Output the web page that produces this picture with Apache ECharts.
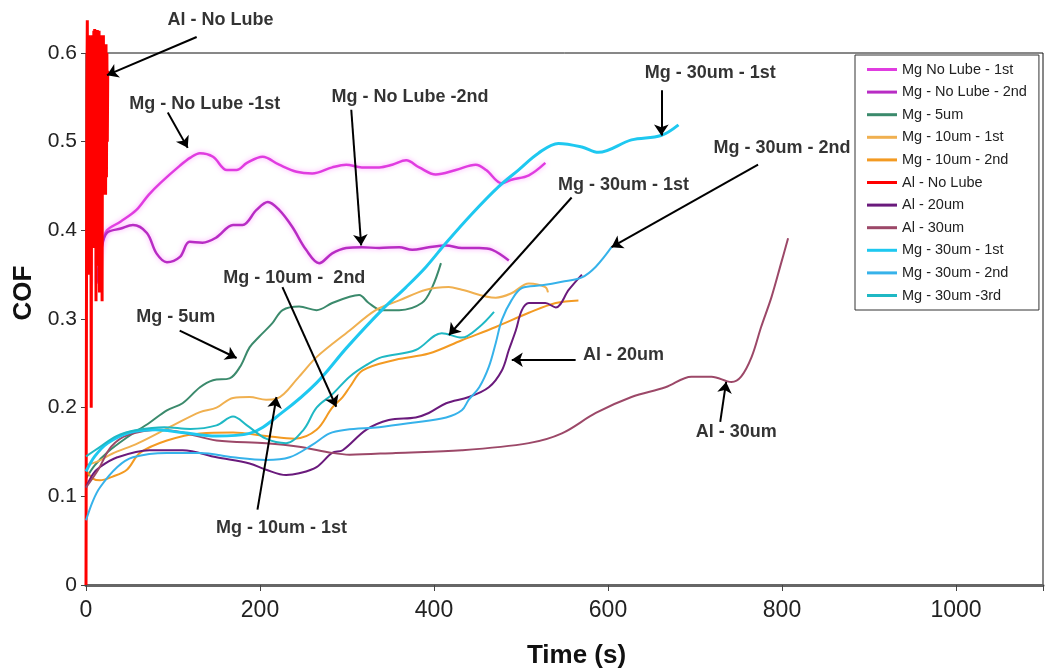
<!DOCTYPE html>
<html>
<head>
<meta charset="utf-8">
<title>COF vs Time</title>
<script src="https://cdn.jsdelivr.net/npm/echarts@6/dist/echarts.min.js"></script>
<style>
  html, body { margin: 0; padding: 0; background: #fff; }
  #chart { width: 1046px; height: 671px; }
</style>
</head>
<body>
<div id="chart"></div>
<script>
// values: [time (s), COF]
var mgNoLube1 = [[12, 0.36], [20, 0.39], [24, 0.4], [40, 0.41], [58, 0.423], [72, 0.44], [85, 0.453], [108, 0.473], [120, 0.482], [131, 0.487], [146, 0.483], [162, 0.468], [173, 0.468], [185, 0.476], [203, 0.483], [222, 0.474], [242, 0.466], [260, 0.464], [283, 0.471], [299, 0.474], [317, 0.471], [337, 0.471], [352, 0.474], [368, 0.479], [383, 0.471], [402, 0.463], [425, 0.468], [448, 0.474], [460, 0.468], [478, 0.453], [489, 0.457], [509, 0.462], [528, 0.476]]
var mgNoLube2 = [[12, 0.34], [18, 0.38], [24, 0.397], [40, 0.402], [54, 0.406], [70, 0.397], [81, 0.374], [93, 0.364], [108, 0.37], [119, 0.387], [134, 0.386], [150, 0.392], [169, 0.406], [180, 0.406], [196, 0.423], [209, 0.432], [222, 0.423], [237, 0.404], [253, 0.378], [268, 0.363], [283, 0.374], [299, 0.38], [317, 0.381], [337, 0.38], [360, 0.381], [375, 0.378], [394, 0.381], [414, 0.383], [432, 0.38], [452, 0.38], [467, 0.378], [486, 0.366]]
var mg5um = [[0, 0.12], [10, 0.135], [25, 0.15], [45, 0.165], [73, 0.183], [93, 0.197], [111, 0.205], [131, 0.223], [146, 0.231], [165, 0.233], [177, 0.246], [188, 0.268], [199, 0.28], [214, 0.295], [226, 0.31], [245, 0.314], [265, 0.31], [283, 0.318], [303, 0.325], [314, 0.327], [325, 0.318], [340, 0.31], [360, 0.31], [386, 0.318], [398, 0.336], [408, 0.363]]
var mg10um1 = [[0, 0.135], [15, 0.14], [30, 0.148], [60, 0.16], [100, 0.18], [131, 0.195], [150, 0.2], [169, 0.211], [188, 0.212], [207, 0.209], [219, 0.21], [245, 0.235], [265, 0.257], [303, 0.287], [333, 0.31], [360, 0.321], [391, 0.333], [417, 0.336], [432, 0.333], [471, 0.324], [489, 0.329], [509, 0.34], [528, 0.336], [531, 0.33]]
var mg10um2 = [[0, 0.13], [8, 0.12], [16, 0.118], [30, 0.122], [47, 0.13], [62, 0.149], [93, 0.163], [131, 0.171], [169, 0.172], [207, 0.168], [240, 0.165], [265, 0.175], [283, 0.2], [295, 0.212], [303, 0.223], [318, 0.242], [356, 0.254], [394, 0.261], [432, 0.276], [471, 0.291], [509, 0.307], [540, 0.318], [566, 0.321]]
var alNoLube = [[0, 0], [0.5, 0.3], [1, 0.55], [1.5, 0.637], [2, 0.45], [2.5, 0.6], [3, 0.35], [3.5, 0.62], [4, 0.5], [4.5, 0.61], [5, 0.42], [5.5, 0.6], [6, 0.2], [6.5, 0.55], [7, 0.62], [7.5, 0.43], [8, 0.61], [8.5, 0.38], [9, 0.625], [9.5, 0.5], [10, 0.627], [10.5, 0.41], [11, 0.62], [11.5, 0.32], [12, 0.6], [12.5, 0.47], [13, 0.626], [13.5, 0.36], [14, 0.61], [14.5, 0.44], [15, 0.625], [15.5, 0.33], [16, 0.6], [16.5, 0.5], [17, 0.62], [17.5, 0.42], [18, 0.6], [18.5, 0.32], [19, 0.58], [19.5, 0.45], [20, 0.62], [20.5, 0.44], [21, 0.6], [21.5, 0.5], [22, 0.58], [22.5, 0.44], [23, 0.61], [23.5, 0.46], [24, 0.6], [24.5, 0.5], [25, 0.58]]
var al20um = [[0, 0.11], [8, 0.125], [16, 0.133], [36, 0.144], [73, 0.152], [111, 0.152], [150, 0.144], [188, 0.137], [207, 0.13], [230, 0.124], [245, 0.126], [265, 0.133], [283, 0.149], [295, 0.152], [322, 0.175], [348, 0.186], [379, 0.189], [394, 0.194], [414, 0.205], [440, 0.212], [463, 0.223], [478, 0.242], [486, 0.265], [494, 0.287], [501, 0.31], [509, 0.318], [528, 0.318], [540, 0.313], [555, 0.333], [570, 0.35]]
var al30um = [[0, 0.11], [14, 0.13], [29, 0.156], [48, 0.169], [86, 0.175], [111, 0.172], [150, 0.163], [207, 0.16], [245, 0.156], [283, 0.149], [303, 0.147], [356, 0.149], [432, 0.152], [509, 0.16], [547, 0.171], [586, 0.194], [627, 0.212], [666, 0.223], [696, 0.235], [719, 0.235], [742, 0.229], [753, 0.235], [765, 0.257], [776, 0.291], [788, 0.325], [799, 0.363], [807, 0.391]]
var mg30um1 = [[0, 0.128], [10, 0.145], [25, 0.16], [50, 0.172], [80, 0.175], [110, 0.172], [150, 0.168], [188, 0.171], [226, 0.195], [265, 0.228], [300, 0.268], [340, 0.31], [368, 0.336], [391, 0.359], [414, 0.386], [444, 0.419], [474, 0.449], [497, 0.468], [520, 0.487], [543, 0.498], [570, 0.494], [589, 0.488], [627, 0.502], [661, 0.507], [681, 0.519]]
var mg30um2 = [[0, 0.073], [8, 0.095], [16, 0.11], [36, 0.133], [54, 0.144], [93, 0.149], [131, 0.149], [169, 0.144], [207, 0.141], [234, 0.144], [260, 0.158], [280, 0.171], [299, 0.175], [337, 0.178], [375, 0.183], [414, 0.189], [432, 0.197], [440, 0.209], [452, 0.223], [463, 0.246], [471, 0.273], [478, 0.299], [489, 0.321], [501, 0.335], [524, 0.338], [547, 0.342], [570, 0.347], [586, 0.359], [604, 0.381]]
var mg30um3 = [[0, 0.145], [15, 0.155], [35, 0.168], [60, 0.175], [90, 0.178], [120, 0.176], [150, 0.18], [169, 0.19], [185, 0.18], [207, 0.165], [230, 0.16], [250, 0.175], [265, 0.2], [283, 0.215], [303, 0.235], [322, 0.248], [340, 0.257], [379, 0.265], [409, 0.284], [432, 0.279], [452, 0.291], [469, 0.308]]

var seriesNames = ['Mg No Lube - 1st', 'Mg - No Lube - 2nd', 'Mg - 5um', 'Mg - 10um - 1st', 'Mg - 10um - 2nd', 'Al - No Lube', 'Al - 20um', 'Al - 30um', 'Mg - 30um - 1st', 'Mg - 30um - 2nd', 'Mg - 30um -3rd']
var seriesData = [mgNoLube1, mgNoLube2, mg5um, mg10um1, mg10um2, alNoLube, al20um, al30um, mg30um1, mg30um2, mg30um3]
var seriesColors = ['#e03ce0', '#b82cc4', '#3b8a6c', '#f0b050', '#f39a22', '#ff0000', '#6a1a7c', '#9c4868', '#1ec8f0', '#36b2ea', '#1fb8c4']
var seriesWidths = [2.5, 2.5, 2, 2, 2, 3, 2, 2, 3, 2, 2]

// annotation texts [time, COF, text] and arrows [from, to]
var notes = [
  [154.7, 0.637, 'Al - No Lube'],
  [136.4, 0.543, 'Mg - No Lube -1st'],
  [372.5, 0.55, 'Mg - No Lube -2nd'],
  [717.5, 0.577, 'Mg - 30um - 1st'],
  [800, 0.493, 'Mg - 30um - 2nd'],
  [617.8, 0.451, 'Mg - 30um - 1st'],
  [239.5, 0.346, 'Mg - 10um -  2nd'],
  [103.2, 0.302, 'Mg - 5um'],
  [224.6, 0.064, 'Mg - 10um - 1st'],
  [617.8, 0.259, 'Al - 20um'],
  [747.3, 0.172, 'Al - 30um']
]
var arrows = [
  [[127.2, 0.618], [24.1, 0.575]],
  [[94, 0.533], [116.9, 0.493]],
  [[304.9, 0.536], [316.3, 0.383]],
  [[661.3, 0.558], [661.3, 0.507]],
  [[772.5, 0.474], [604, 0.381]],
  [[558.2, 0.437], [417.2, 0.282]],
  [[225.8, 0.336], [287.7, 0.201]],
  [[107.7, 0.287], [173.1, 0.256]],
  [[197.1, 0.085], [218.9, 0.212]],
  [[562.8, 0.254], [489.4, 0.254]],
  [[729, 0.184], [735.8, 0.229]]
]

var chart = echarts.init(document.getElementById('chart'), null, { renderer: 'canvas' })

var series = seriesNames.map(function(name, i) {
  var magenta = i < 2
  return {
    name: name,
    type: 'line',
    data: seriesData[i],
    showSymbol: false,
    symbol: 'none',
    smooth: i === 5 ? false : 0.35,
    clip: false,
    color: seriesColors[i],
    lineStyle: {
      width: seriesWidths[i],
      color: seriesColors[i],
      shadowColor: magenta ? 'rgba(255,140,255,0.8)' : 'rgba(0,0,0,0)',
      shadowBlur: magenta ? 5 : 0
    },
    z: 3
  }
})

// arrows drawn as a lines series so the one above the top line is kept
series.push({
  name: 'arrows',
  type: 'lines',
  coordinateSystem: 'cartesian2d',
  clip: false,
  silent: true,
  symbol: ['none', 'arrow'],
  symbolSize: 11,
  lineStyle: { color: '#000', width: 2, opacity: 1, curveness: 0 },
  data: arrows.map(function(a) { return { coords: a } }),
  z: 5
})

series.push({
  name: 'notes',
  type: 'scatter',
  data: notes,
  symbolSize: 1,
  clip: false,
  silent: true,
  itemStyle: { color: 'rgba(0,0,0,0)' },
  label: {
    show: true,
    position: 'inside',
    formatter: function(p) { return p.value[2] },
    fontFamily: 'Liberation Sans, Arial, sans-serif',
    fontWeight: 'bold',
    fontSize: 18,
    color: '#000',
    textBorderWidth: 0
  },
  z: 6
})

chart.setOption({
  animation: false,
  backgroundColor: '#fff',
  grid: {
    left: 86,
    right: 3,
    top: 53,
    bottom: 86,
    containLabel: false,
    outerBoundsMode: 'none',
    show: true,
    borderColor: '#111',
    borderWidth: 1
  },
  legend: {
    data: seriesNames,
    orient: 'vertical',
    left: 855,
    top: 55,
    backgroundColor: '#fff',
    borderColor: '#333',
    borderWidth: 1,
    padding: [7, 12, 7, 12],
    itemGap: 7.6,
    itemWidth: 30,
    itemHeight: 3,
    icon: 'rect',
    textStyle: {
      fontFamily: 'Liberation Sans, Arial, sans-serif',
      fontSize: 14.5,
      lineHeight: 14,
      color: '#222'
    }
  },
  xAxis: {
    type: 'value',
    min: 0,
    max: 1100,
    interval: 200,
    name: 'Time (s)',
    nameLocation: 'middle',
    nameGap: 58,
    nameTextStyle: {
      fontFamily: 'Liberation Sans, Arial, sans-serif',
      fontWeight: 'bold',
      fontSize: 26,
      color: '#111',
      padding: [0, 0, 0, 24]
    },
    axisLine: { show: true, lineStyle: { color: '#666', width: 3 } },
    axisTick: { show: true, length: 6, lineStyle: { color: '#444' } },
    axisLabel: {
      margin: 14,
      fontFamily: 'Liberation Sans, Arial, sans-serif',
      fontSize: 23,
      color: '#222',
      formatter: function(v) { return v > 1000 ? '' : v }
    },
    splitLine: { show: false }
  },
  yAxis: {
    type: 'value',
    min: 0,
    max: 0.6,
    interval: 0.1,
    name: 'COF',
    nameLocation: 'middle',
    nameRotate: 90,
    nameGap: 35,
    nameTextStyle: {
      fontFamily: 'Liberation Sans, Arial, sans-serif',
      fontWeight: 'bold',
      fontSize: 26,
      color: '#111',
      padding: [0, 0, 0, 52]
    },
    axisLine: { show: true, lineStyle: { color: '#222', width: 1 } },
    axisTick: { show: true, length: 5, lineStyle: { color: '#444' } },
    axisLabel: {
      margin: 9,
      fontFamily: 'Liberation Sans, Arial, sans-serif',
      fontSize: 21,
      color: '#222'
    },
    splitLine: { show: false }
  },
  series: series
})
</script>
</body>
</html>
